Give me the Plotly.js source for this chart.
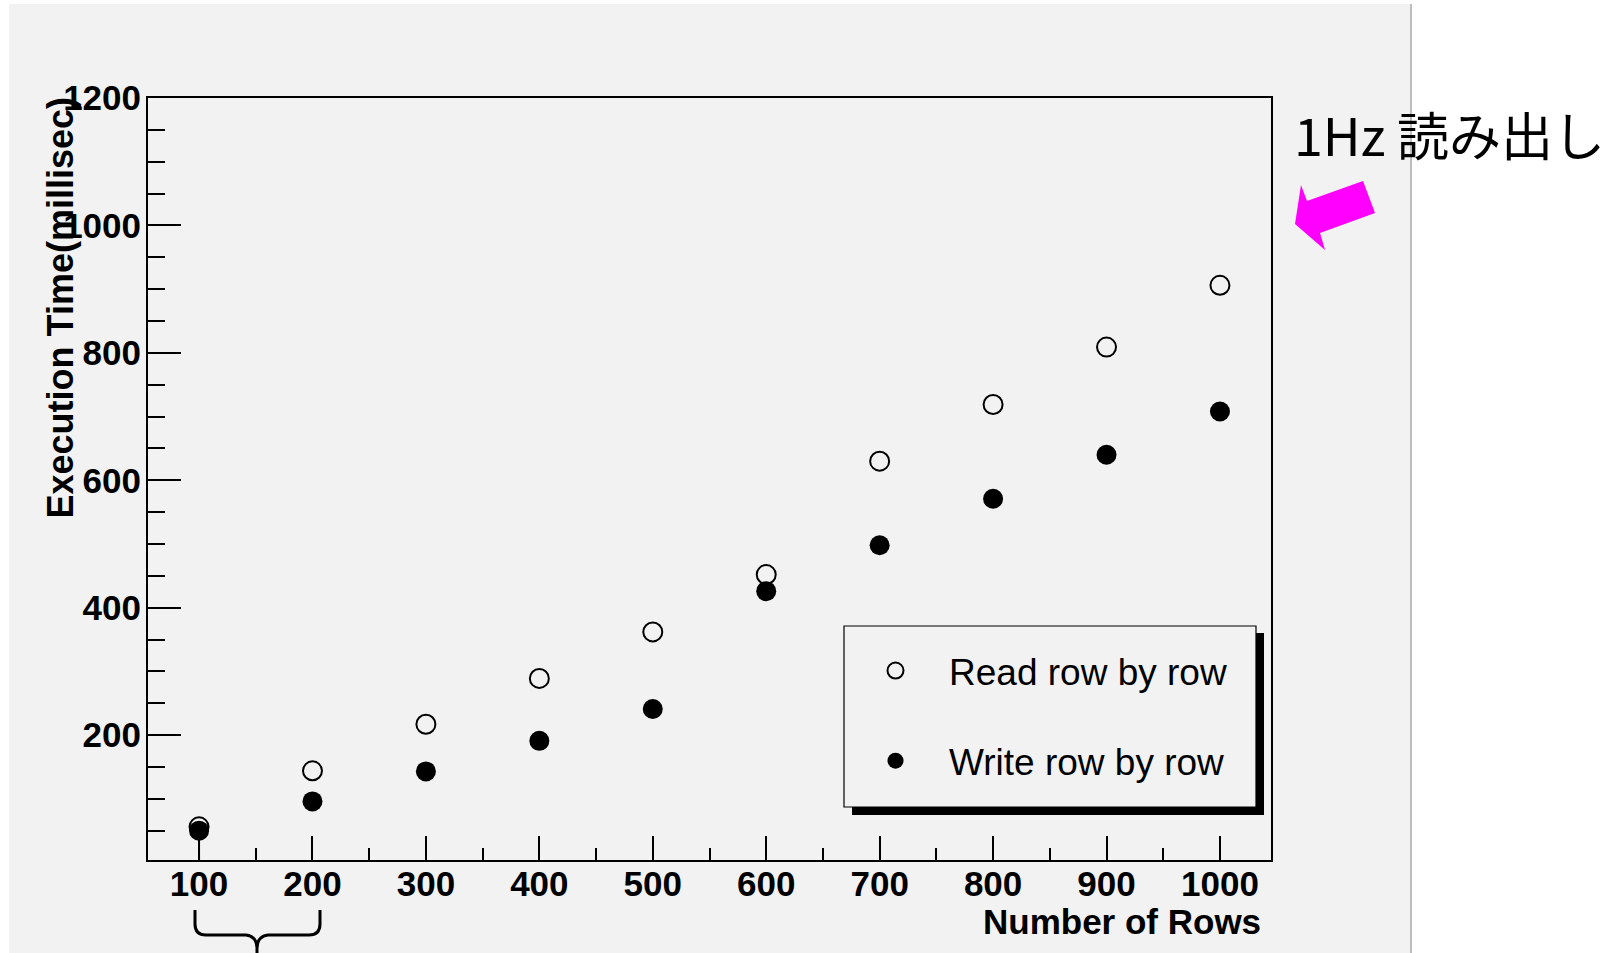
<!DOCTYPE html>
<html>
<head>
<meta charset="utf-8">
<script src="https://cdn.plot.ly/plotly-3.0.1.min.js"></script>
<style>html,body{margin:0;padding:0;background:#fff;}#chart{width:1608px;height:953px;}</style>
</head>
<body>
<div id="chart"></div>
<script>
// ---- data ----
const rows = [100, 200, 300, 400, 500, 600, 700, 800, 900, 1000];
const readTimes = [56, 144, 217, 289, 362, 452, 630, 719, 809, 906];
const writeTimes = [50, 96, 143, 191, 241, 426, 498, 571, 640, 708];
const writeErrPlus = [0, 0, 0, 0, 0, 0, 0, 0, 0, 0];
const writeErrMinus = [48, 0, 0, 0, 0, 0, 0, 0, 0, 0];
const seriesNames = ['Read row by row', 'Write row by row'];
const xTitle = 'Number of Rows';
const yTitle = 'Execution Time(millisec)';
const noteText = '1Hz 読み出し';

// ---- layout geometry (pixels) ----
const W = 1608, H = 953;
const L = 148, R = 1271, T = 98, B = 860;
const px = x => (x - L) / (R - L);
const py = y => (B - y) / (B - T);
function pathFromPx(cmds) {
  return cmds.map(c => {
    if (typeof c === 'string') return c;
    return px(c[0]).toFixed(5) + ',' + py(c[1]).toFixed(5);
  }).join(' ');
}

const tickFont = {family: 'Liberation Sans, Arial, sans-serif', size: 35, weight: 'bold', color: '#000'};

const traces = [
  {
    x: rows, y: readTimes, mode: 'markers', name: seriesNames[0], legendgroup: 'r',
    marker: {symbol: 'circle-open', size: 19, color: '#000', line: {width: 2, color: '#000'}},
    cliponaxis: true
  },
  {
    x: rows, y: writeTimes, mode: 'markers', name: seriesNames[1], legendgroup: 'w',
    marker: {symbol: 'circle', size: 20, color: '#000'},
    error_y: {type: 'data', symmetric: false, array: writeErrPlus, arrayminus: writeErrMinus,
              width: 0, thickness: 2, color: '#000'},
    cliponaxis: true
  }
];

const shapes = [
  // grey slide panel
  {type: 'rect', xref: 'paper', yref: 'paper', layer: 'below',
   x0: px(9), x1: px(1411), y0: py(965), y1: py(4),
   fillcolor: '#f2f2f2', line: {width: 0}},
  // panel right border
  {type: 'line', xref: 'paper', yref: 'paper', layer: 'below',
   x0: px(1411), x1: px(1411), y0: py(965), y1: py(4),
   line: {color: '#bdbdbd', width: 2}},
  // legend shadow
  {type: 'rect', xref: 'paper', yref: 'paper', layer: 'above',
   x0: px(852), x1: px(1264), y0: py(815), y1: py(633),
   fillcolor: '#000', line: {width: 0}},
  // legend box
  {type: 'rect', xref: 'paper', yref: 'paper', layer: 'above',
   x0: px(844), x1: px(1256), y0: py(807), y1: py(626),
   fillcolor: '#f2f2f2', line: {color: '#000', width: 1.2}},
  // magenta arrow
  {type: 'path', xref: 'paper', yref: 'paper', layer: 'above',
   path: pathFromPx(['M', [1295, 224], 'L', [1301, 185], 'L', [1307, 201], 'L', [1363, 181],
                     'L', [1375, 213], 'L', [1320, 233], 'L', [1325, 250], 'Z']),
   fillcolor: '#ff00ff', line: {width: 0}},
  // brace under 100-200
  {type: 'path', xref: 'paper', yref: 'paper', layer: 'above',
   path: pathFromPx(['M', [195, 910], 'L', [195, 924], 'Q', [195, 935], [206, 935], 'L', [246, 935],
                     'Q', [256, 936], [257, 947], 'L', [257, 965]]),
   line: {color: '#000', width: 3}},
  {type: 'path', xref: 'paper', yref: 'paper', layer: 'above',
   path: pathFromPx(['M', [320, 910], 'L', [320, 924], 'Q', [320, 935], [309, 935], 'L', [268, 935],
                     'Q', [258, 936], [257, 947]]),
   line: {color: '#000', width: 3}}
];

const annotations = [
  {text: xTitle, xref: 'paper', yref: 'paper', x: px(1263), y: py(921),
   xanchor: 'right', yanchor: 'middle', showarrow: false,
   font: {family: 'Liberation Sans, Arial, sans-serif', size: 35, weight: 'bold', color: '#000'}},
  {text: yTitle, xref: 'paper', yref: 'paper', x: px(60), y: py(96),
   xanchor: 'center', yanchor: 'top', textangle: -90, showarrow: false,
   font: {family: 'Liberation Sans, Arial, sans-serif', size: 36, weight: 'bold', color: '#000'}},
  {text: noteText, xref: 'paper', yref: 'paper', x: px(1292), y: py(133),
   xanchor: 'left', yanchor: 'middle', showarrow: false,
   font: {family: 'Noto Sans CJK JP, sans-serif', size: 52, color: '#000'}}
];

const layout = {
  width: W, height: H,
  margin: {l: L, r: W - R, t: T, b: H - B, pad: 0},
  paper_bgcolor: '#ffffff',
  plot_bgcolor: 'rgba(0,0,0,0)',
  showlegend: true,
  legend: {
    x: px(842), y: py(640), xanchor: 'left', yanchor: 'top',
    bgcolor: 'rgba(0,0,0,0)', borderwidth: 0,
    font: {family: 'Liberation Sans, Arial, sans-serif', size: 37, color: '#000'},
    itemwidth: 97, tracegroupgap: 39, traceorder: 'grouped'
  },
  xaxis: {
    range: [55, 1045], tick0: 0, dtick: 100,
    ticks: 'inside', ticklen: 24, tickwidth: 2, tickcolor: '#000',
    showline: true, linewidth: 2, linecolor: '#000', mirror: true,
    showgrid: false, zeroline: false, tickfont: tickFont, ticklabelstandoff: -8,
    minor: {dtick: 50, tick0: 0, ticks: 'inside', ticklen: 12, tickwidth: 2, tickcolor: '#000', showgrid: false}
  },
  yaxis: {
    range: [4, 1200], tick0: 0, dtick: 200,
    ticks: 'inside', ticklen: 33, tickwidth: 2, tickcolor: '#000',
    showline: true, linewidth: 2, linecolor: '#000', mirror: true,
    showgrid: false, zeroline: false, tickfont: tickFont, ticklabelstandoff: -2,
    minor: {dtick: 50, tick0: 0, ticks: 'inside', ticklen: 17, tickwidth: 2, tickcolor: '#000', showgrid: false}
  },
  shapes: shapes,
  annotations: annotations,
  hovermode: false
};

Plotly.newPlot('chart', traces, layout, {staticPlot: true, displayModeBar: false});
</script>
</body>
</html>
